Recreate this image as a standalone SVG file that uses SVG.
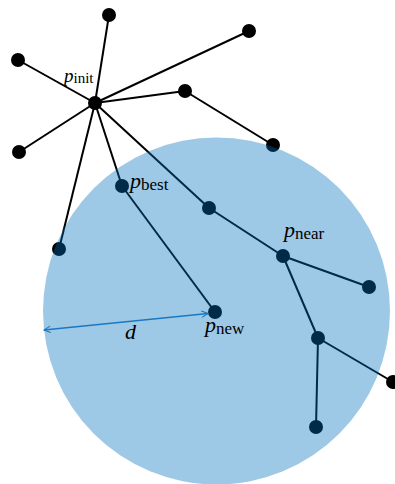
<svg xmlns="http://www.w3.org/2000/svg" width="395" height="484" viewBox="0 0 395 484">
<defs>
<style>
.e{stroke:#000;stroke-width:2;fill:none}
.n{fill:#000}
.lbl{font-family:"Liberation Serif",serif;fill:#000}
.it{font-style:italic}
</style>
<marker id="ah" viewBox="0 0 10 10" refX="9" refY="5" markerWidth="8" markerHeight="8" orient="auto-start-reverse" markerUnits="userSpaceOnUse">
<path d="M1,1 L9,5 L1,9" fill="none" stroke="#1a78c2" stroke-width="1.3"/>
</marker>
</defs>
<rect width="395" height="484" fill="#fff"/>
<g id="connectors">
<line class="e" x1="95" y1="103" x2="109" y2="15"/>
<line class="e" x1="95" y1="103" x2="18" y2="60"/>
<line class="e" x1="95" y1="103" x2="249" y2="31"/>
<line class="e" x1="95" y1="103" x2="185" y2="91"/>
<line class="e" x1="185" y1="91" x2="273" y2="145"/>
<line class="e" x1="95" y1="103" x2="19" y2="152"/>
<line class="e" x1="95" y1="103" x2="59" y2="249"/>
<line class="e" x1="95" y1="103" x2="122" y2="186"/>
<line class="e" x1="95" y1="103" x2="209" y2="208"/>
<line class="e" x1="122" y1="186" x2="215" y2="312"/>
<line class="e" x1="209" y1="208" x2="283" y2="256"/>
<line class="e" x1="283" y1="256" x2="369" y2="287"/>
<line class="e" x1="283" y1="256" x2="318" y2="338"/>
<line class="e" x1="318" y1="338" x2="393" y2="382"/>
<line class="e" x1="318" y1="338" x2="316" y2="427"/>
</g>
<g id="n_init"><circle class="n" cx="95" cy="103" r="7"/><text class="lbl" x="64" y="82"><tspan class="it" font-size="19">p</tspan><tspan font-size="15" dy="1">init</tspan></text></g>
<g id="n1"><circle class="n" cx="109" cy="15" r="7"/></g>
<g id="n2"><circle class="n" cx="18" cy="60" r="7"/></g>
<g id="n3"><circle class="n" cx="249" cy="31" r="7"/></g>
<g id="n4"><circle class="n" cx="185" cy="91" r="7"/></g>
<g id="n5"><circle class="n" cx="273" cy="145" r="7"/></g>
<g id="n6"><circle class="n" cx="19" cy="152" r="7"/></g>
<g id="n7"><circle class="n" cx="59" cy="249" r="7"/></g>
<g id="n_best"><circle class="n" cx="122" cy="186" r="7"/></g>
<g id="n8"><circle class="n" cx="209" cy="208" r="7"/></g>
<g id="n_near"><circle class="n" cx="283" cy="256" r="7"/></g>
<g id="n9"><circle class="n" cx="369" cy="287" r="7"/></g>
<g id="n10"><circle class="n" cx="318" cy="338" r="7"/></g>
<g id="n11"><circle class="n" cx="393" cy="382" r="7"/></g>
<g id="n12"><circle class="n" cx="316" cy="427" r="7"/></g>
<g id="n_new"><circle class="n" cx="215" cy="312" r="7"/></g>
<g id="region"><circle cx="216.5" cy="311" r="173.5" fill="#0072bd" fill-opacity="0.38"/></g>
<g id="labels">
<text class="lbl" x="130" y="188"><tspan class="it" font-size="22">p</tspan><tspan font-size="17" dy="2">best</tspan></text>
<text class="lbl" x="284" y="237"><tspan class="it" font-size="22">p</tspan><tspan font-size="17" dy="2">near</tspan></text>
<text class="lbl" x="205" y="332"><tspan class="it" font-size="22">p</tspan><tspan font-size="17" dy="2">new</tspan></text>
<text class="lbl it" x="125" y="339" font-size="22">d</text>
</g>
<g id="arrow"><line x1="44" y1="330" x2="208" y2="313.5" stroke="#1a78c2" stroke-width="1.3" marker-start="url(#ah)" marker-end="url(#ah)"/></g>
</svg>
